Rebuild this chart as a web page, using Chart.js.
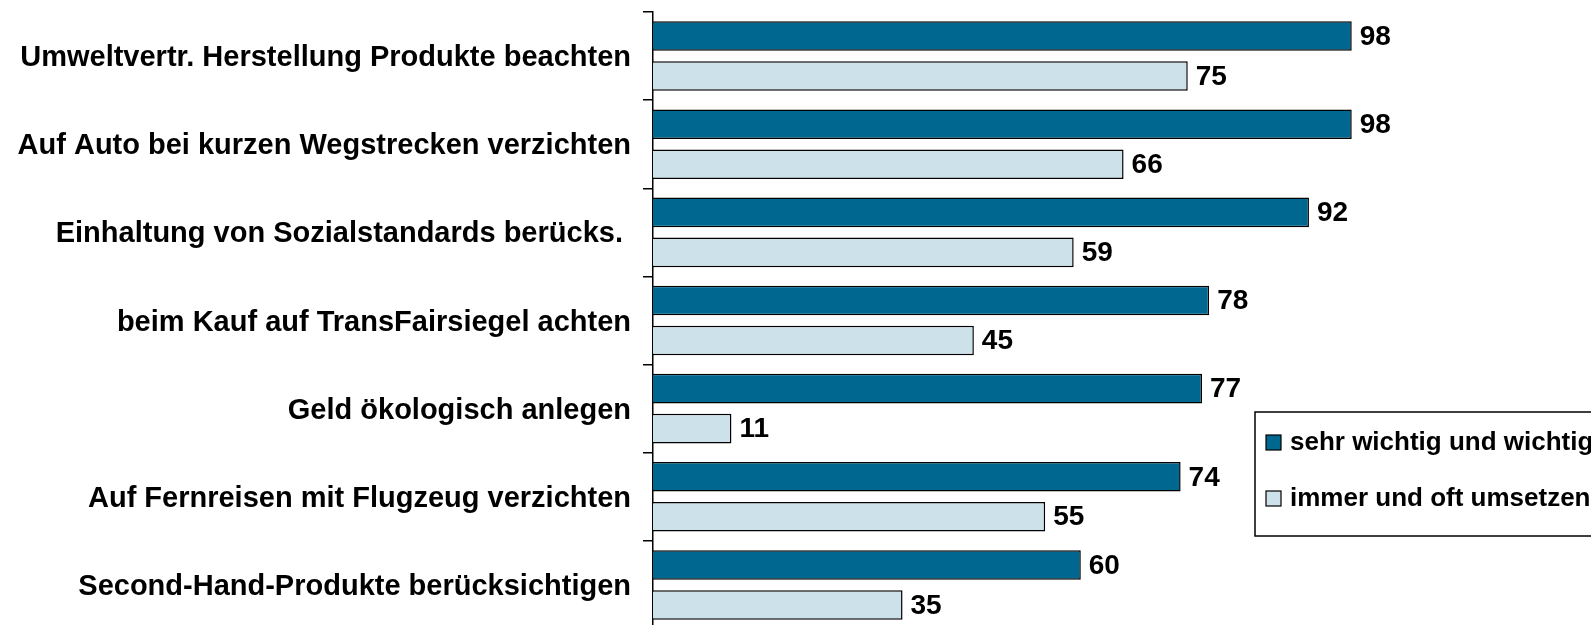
<!DOCTYPE html>
<html>
<head>
<meta charset="utf-8">
<script src="https://cdn.jsdelivr.net/npm/chart.js@4"></script>
<style>
    html, body { margin: 0; padding: 0; background: #fff; overflow: hidden; }
    #wrap { width: 1591px; height: 632px; position: relative; }
</style>
</head>
<body>
<div id="wrap"><canvas id="chart"></canvas></div>
<script>
// Daten
const kategorien = [
    'Umweltvertr. Herstellung Produkte beachten',
    'Auf Auto bei kurzen Wegstrecken verzichten',
    'Einhaltung von Sozialstandards berücks. ',
    'beim Kauf auf TransFairsiegel achten',
    'Geld ökologisch anlegen',
    'Auf Fernreisen mit Flugzeug verzichten',
    'Second-Hand-Produkte berücksichtigen'
];
const sehrWichtig = [98, 98, 92, 78, 77, 74, 60];
const immerOft = [75, 66, 59, 45, 11, 55, 35];
const serienNamen = ['sehr wichtig und wichtig', 'immer und oft umsetzen'];

const fontFamily = '"Liberation Sans", Arial, sans-serif';

// Werte neben den Balken
const werteLabels = {
    id: 'werteLabels',
    afterDatasetsDraw(chart) {
        const c = chart.ctx;
        c.save();
        c.font = 'bold 28px ' + fontFamily;
        c.fillStyle = '#000';
        c.textAlign = 'left';
        c.textBaseline = 'middle';
        chart.data.datasets.forEach((ds, i) => {
            chart.getDatasetMeta(i).data.forEach((bar, j) => {
                c.fillText(ds.data[j], bar.x + 8, bar.y + 1);
            });
        });
        c.restore();
    }
};

// Legende im Kasten rechts unten
const legendeBox = {
    id: 'legendeBox',
    afterDraw(chart) {
        const c = chart.ctx;
        c.save();
        c.fillStyle = '#fff';
        c.fillRect(1255, 412, 400, 124);
        c.strokeStyle = '#000';
        c.lineWidth = 1.5;
        c.strokeRect(1255, 412, 400, 124);
        c.font = 'bold 26px ' + fontFamily;
        c.textBaseline = 'middle';
        c.textAlign = 'left';
        chart.data.datasets.forEach((ds, i) => {
            const y = 442 + i * 56;
            c.fillStyle = ds.backgroundColor;
            c.fillRect(1266, y - 7, 15, 15);
            c.lineWidth = 1.2;
            c.strokeRect(1266, y - 7, 15, 15);
            c.fillStyle = '#000';
            c.fillText(ds.label, 1290, y + 1);
        });
        c.restore();
    }
};

new Chart(document.getElementById('chart'), {
    type: 'bar',
    data: {
        labels: kategorien,
        datasets: [
            {
                label: serienNamen[0],
                data: sehrWichtig,
                backgroundColor: '#006890',
                borderColor: '#000',
                borderWidth: 1.5,
                categoryPercentage: 0.907,
                barPercentage: 0.74
            },
            {
                label: serienNamen[1],
                data: immerOft,
                backgroundColor: '#cde1ea',
                borderColor: '#000',
                borderWidth: 1.5,
                categoryPercentage: 0.907,
                barPercentage: 0.74
            }
        ]
    },
    options: {
        indexAxis: 'y',
        responsive: true,
        maintainAspectRatio: false,
        animation: false,
        layout: { padding: { left: 0, right: 225, top: 12, bottom: 3 } },
        plugins: {
            legend: { display: false },
            tooltip: { enabled: false }
        },
        scales: {
            x: { display: false, min: 0, max: 100 },
            y: {
                offset: true,
                afterFit: (scale) => {
                    scale.width = 653;
                    scale.paddingTop = 0;
                    scale.paddingBottom = 0;
                },
                grid: {
                    offset: true,
                    drawOnChartArea: false,
                    color: '#000',
                    lineWidth: 1.5,
                    tickLength: 10
                },
                border: { color: '#000', width: 1.5 },
                ticks: {
                    color: '#000',
                    padding: 12,
                    labelOffset: 2,
                    font: { family: fontFamily, size: 29, weight: 'bold' }
                }
            }
        }
    },
    plugins: [werteLabels, legendeBox]
});
</script>
</body>
</html>
